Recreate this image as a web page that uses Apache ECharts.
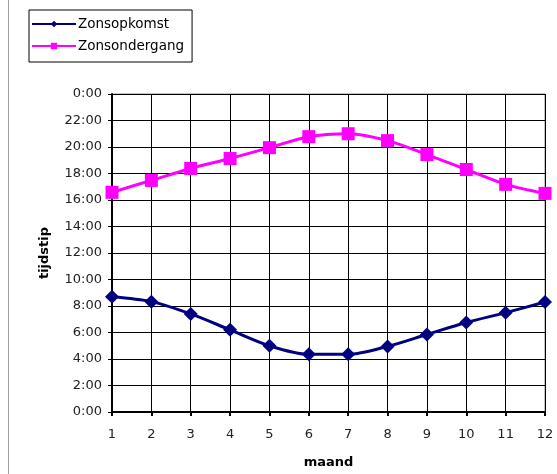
<!DOCTYPE html>
<html><head><meta charset="utf-8">
<script src="https://cdn.jsdelivr.net/npm/echarts@6/dist/echarts.min.js"></script>
<style>html,body{margin:0;padding:0;background:#fff}#c{width:557px;height:474px}</style>
</head><body><div id="c"></div>
<script>
const months = ['1','2','3','4','5','6','7','8','9','10','11','12'];
const zonsopkomst = [8.7, 8.33, 7.4, 6.2, 5.0, 4.35, 4.35, 4.95, 5.85, 6.75, 7.5, 8.3];
const zonsondergang = [16.58, 17.48, 18.38, 19.13, 19.95, 20.78, 21.0, 20.48, 19.43, 18.3, 17.18, 16.5];
const yTicks = [0, 2, 4, 6, 8, 10, 12, 14, 16, 18, 20, 22, 24];

const chart = echarts.init(document.getElementById('c'), null, {renderer: 'canvas'});
const font = '"DejaVu Sans", Arial, sans-serif';
chart.setOption({
  animation: false,
  backgroundColor: '#fff',
  textStyle: {fontFamily: font},
  graphic: [{
    type: 'line', silent: true,
    shape: {x1: 8.5, y1: 0, x2: 8.5, y2: 474},
    style: {stroke: '#a0a0a0', lineWidth: 1}
  }],
  legend: {
    orient: 'vertical', left: 29, top: 10,
    borderColor: '#000', borderWidth: 1, padding: [7, 8, 9, 2],
    itemWidth: 44, itemHeight: 8, itemGap: 8,
    textStyle: {fontFamily: font, fontSize: 13.5, color: '#000', padding: [0, 0, 0, -3]},
    data: ['Zonsopkomst', 'Zonsondergang']
  },
  grid: {left: 112, right: 12, top: 94, bottom: 60, show: true, borderColor: '#8a8a8a', borderWidth: 1},
  xAxis: {
    type: 'category', data: months, boundaryGap: false,
    name: 'maand', nameLocation: 'middle', nameGap: 44,
    nameTextStyle: {fontFamily: font, fontSize: 13, fontWeight: 'bold', color: '#000'},
    axisLine: {lineStyle: {color: '#000', width: 2}},
    axisTick: {show: true, length: 4, lineStyle: {color: '#000', width: 2}, alignWithLabel: true},
    axisLabel: {fontFamily: font, fontSize: 13, color: '#222', margin: 16},
    splitLine: {show: true, interval: 0, lineStyle: {color: '#000', width: 1}}
  },
  yAxis: {
    type: 'value', min: 0, max: 24, interval: 2,
    name: 'tijdstip', nameLocation: 'middle', nameGap: 61, nameRotate: 90,
    nameTextStyle: {fontFamily: font, fontSize: 13, fontWeight: 'bold', color: '#000'},
    axisLine: {show: true, lineStyle: {color: '#000', width: 2}},
    axisTick: {show: true, length: 4, lineStyle: {color: '#000', width: 1}},
    axisLabel: {fontFamily: font, fontSize: 13, color: '#222', margin: 10,
      formatter: v => (yTicks.includes(v) ? (v % 24) + ':00' : '')},
    splitLine: {show: true, lineStyle: {color: '#000', width: 1}}
  },
  series: [{
    name: 'Zonsopkomst', type: 'line', data: zonsopkomst, smooth: 0.3,
    symbol: 'diamond', symbolSize: 14,
    lineStyle: {color: '#000080', width: 3},
    itemStyle: {color: '#000080'}
  }, {
    name: 'Zonsondergang', type: 'line', data: zonsondergang, smooth: 0.3,
    symbol: 'rect', symbolSize: 13,
    lineStyle: {color: '#ff00ff', width: 3},
    itemStyle: {color: '#ff00ff'}
  }]
});
</script></body></html>
